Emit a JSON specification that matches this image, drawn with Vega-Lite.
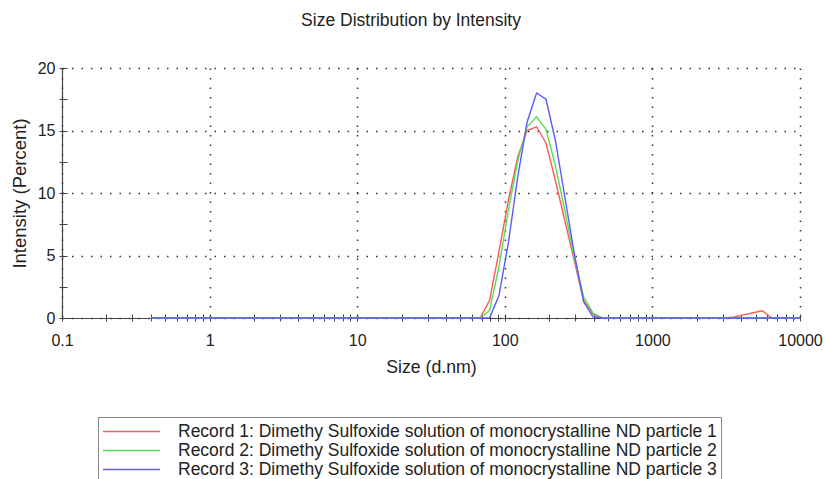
{
  "$schema": "https://vega.github.io/schema/vega-lite/v6.json",
  "autosize": {"type": "none"},
  "width": 738,
  "height": 250,
  "padding": {"left": 62, "top": 68, "right": 26, "bottom": 161},
  "background": "white",
  "title": {"text": "Size Distribution by Intensity", "fontSize": 17.5, "fontWeight": "normal", "color": "#222", "anchor": "middle", "frame": "group", "dx": -20, "offset": 31},
  "config": {"view": {"stroke": null}, "font": "Liberation Sans"},
  "data": {"values": [
    {"size": 0.4, "r1": 0, "r2": 0, "r3": 0},
    {"size": 0.4632, "r1": 0, "r2": 0, "r3": 0},
    {"size": 0.5365, "r1": 0, "r2": 0, "r3": 0},
    {"size": 0.6213, "r1": 0, "r2": 0, "r3": 0},
    {"size": 0.7195, "r1": 0, "r2": 0, "r3": 0},
    {"size": 0.8332, "r1": 0, "r2": 0, "r3": 0},
    {"size": 0.9649, "r1": 0, "r2": 0, "r3": 0},
    {"size": 1.117, "r1": 0, "r2": 0, "r3": 0},
    {"size": 1.294, "r1": 0, "r2": 0, "r3": 0},
    {"size": 1.499, "r1": 0, "r2": 0, "r3": 0},
    {"size": 1.736, "r1": 0, "r2": 0, "r3": 0},
    {"size": 2.01, "r1": 0, "r2": 0, "r3": 0},
    {"size": 2.328, "r1": 0, "r2": 0, "r3": 0},
    {"size": 2.696, "r1": 0, "r2": 0, "r3": 0},
    {"size": 3.122, "r1": 0, "r2": 0, "r3": 0},
    {"size": 3.615, "r1": 0, "r2": 0, "r3": 0},
    {"size": 4.187, "r1": 0, "r2": 0, "r3": 0},
    {"size": 4.849, "r1": 0, "r2": 0, "r3": 0},
    {"size": 5.615, "r1": 0, "r2": 0, "r3": 0},
    {"size": 6.503, "r1": 0, "r2": 0, "r3": 0},
    {"size": 7.531, "r1": 0, "r2": 0, "r3": 0},
    {"size": 8.721, "r1": 0, "r2": 0, "r3": 0},
    {"size": 10.1, "r1": 0, "r2": 0, "r3": 0},
    {"size": 11.7, "r1": 0, "r2": 0, "r3": 0},
    {"size": 13.54, "r1": 0, "r2": 0, "r3": 0},
    {"size": 15.69, "r1": 0, "r2": 0, "r3": 0},
    {"size": 18.17, "r1": 0, "r2": 0, "r3": 0},
    {"size": 21.04, "r1": 0, "r2": 0, "r3": 0},
    {"size": 24.36, "r1": 0, "r2": 0, "r3": 0},
    {"size": 28.21, "r1": 0, "r2": 0, "r3": 0},
    {"size": 32.67, "r1": 0, "r2": 0, "r3": 0},
    {"size": 37.84, "r1": 0, "r2": 0, "r3": 0},
    {"size": 43.82, "r1": 0, "r2": 0, "r3": 0},
    {"size": 50.75, "r1": 0, "r2": 0, "r3": 0},
    {"size": 58.77, "r1": 0, "r2": 0, "r3": 0},
    {"size": 68.06, "r1": 0, "r2": 0, "r3": 0},
    {"size": 78.82, "r1": 1.4, "r2": 0.6, "r3": 0},
    {"size": 91.28, "r1": 5.3, "r2": 4.1, "r3": 1.8},
    {"size": 105.7, "r1": 9.4, "r2": 8.6, "r3": 6.0},
    {"size": 122.4, "r1": 12.9, "r2": 12.6, "r3": 11.3},
    {"size": 141.8, "r1": 15.0, "r2": 15.3, "r3": 15.7},
    {"size": 164.2, "r1": 15.3, "r2": 16.1, "r3": 18.0},
    {"size": 190.1, "r1": 14.0, "r2": 15.1, "r3": 17.5},
    {"size": 220.2, "r1": 11.0, "r2": 12.2, "r3": 14.2},
    {"size": 255.0, "r1": 7.8, "r2": 8.6, "r3": 9.7},
    {"size": 295.3, "r1": 4.6, "r2": 4.9, "r3": 5.2},
    {"size": 342.0, "r1": 1.4, "r2": 1.7, "r3": 1.3},
    {"size": 396.1, "r1": 0.3, "r2": 0.4, "r3": 0.1},
    {"size": 458.7, "r1": 0, "r2": 0, "r3": 0},
    {"size": 531.2, "r1": 0, "r2": 0, "r3": 0},
    {"size": 615.1, "r1": 0, "r2": 0, "r3": 0},
    {"size": 712.4, "r1": 0, "r2": 0, "r3": 0},
    {"size": 825.0, "r1": 0, "r2": 0, "r3": 0},
    {"size": 955.4, "r1": 0, "r2": 0, "r3": 0},
    {"size": 1106, "r1": 0, "r2": 0, "r3": 0},
    {"size": 1281, "r1": 0, "r2": 0, "r3": 0},
    {"size": 1484, "r1": 0, "r2": 0, "r3": 0},
    {"size": 1718, "r1": 0, "r2": 0, "r3": 0},
    {"size": 1990, "r1": 0, "r2": 0, "r3": 0},
    {"size": 2305, "r1": 0, "r2": 0, "r3": 0},
    {"size": 2669, "r1": 0, "r2": 0, "r3": 0},
    {"size": 3091, "r1": 0, "r2": 0, "r3": 0},
    {"size": 3580, "r1": 0.08, "r2": 0, "r3": 0},
    {"size": 4145, "r1": 0.25, "r2": 0, "r3": 0},
    {"size": 4801, "r1": 0.42, "r2": 0, "r3": 0},
    {"size": 5560, "r1": 0.58, "r2": 0, "r3": 0},
    {"size": 6439, "r1": 0, "r2": 0, "r3": 0},
    {"size": 7456, "r1": 0, "r2": 0, "r3": 0},
    {"size": 8635, "r1": 0, "r2": 0, "r3": 0},
    {"size": 10000, "r1": 0, "r2": 0, "r3": 0}
  ]},
  "transform": [{"fold": ["r1", "r2", "r3"], "as": ["record", "intensity"]}],
  "resolve": {"axis": {"x": "independent", "y": "independent"}},
  "layer": [
    {
      "mark": {"type": "line", "strokeWidth": 1.4, "interpolate": "linear"},
      "encoding": {
        "x": {"field": "size", "type": "quantitative",
          "scale": {"type": "log", "domain": [0.1, 10000], "nice": false},
          "axis": {"orient": "bottom", "title": "Size (d.nm)", "values": [0.1, 1, 10, 100, 1000, 10000],
            "labelExpr": "'' + datum.value", "ticks": false, "grid": true, "gridColor": "#333", "gridDash": [1.5, 8], "gridWidth": 1.5,
            "domainColor": "#444", "domainWidth": 1.2, "labelFontSize": 16, "labelColor": "#222", "labelPadding": 14, "labelFlush": false,
            "titleFontSize": 17.7, "titleFontWeight": "normal", "titleColor": "#222", "titlePadding": 10}},
        "y": {"field": "intensity", "type": "quantitative",
          "scale": {"domain": [0, 20], "nice": false},
          "axis": {"orient": "left", "title": "Intensity (Percent)", "values": [0, 5, 10, 15, 20],
            "ticks": false, "grid": true, "gridColor": "#333", "gridDash": [1.5, 8], "gridWidth": 1.5,
            "domainColor": "#444", "domainWidth": 1.2, "labelFontSize": 16, "labelColor": "#222", "labelPadding": 7, "labelFlush": false,
            "titleFontSize": 18.5, "titleFontWeight": "normal", "titleColor": "#222", "titlePadding": 8}},
        "color": {"field": "record", "type": "nominal",
          "scale": {"domain": ["r1", "r2", "r3"], "range": ["#ff5a5a", "#55e055", "#5a5aff"]},
          "legend": {"orient": "none", "legendX": 36, "legendY": 349, "title": null, "direction": "vertical",
            "strokeColor": "#888", "padding": 4, "symbolType": "M-3,0H3", "symbolSize": 361, "symbolStrokeWidth": 1.5,
            "symbolOffset": 19, "labelOffset": 36, "labelFontSize": 17.5, "labelColor": "#222", "labelLimit": 0, "rowPadding": 0,
            "labelExpr": "'Record ' + substring(datum.label, 1) + ': Dimethy Sulfoxide solution of monocrystalline ND particle ' + substring(datum.label, 1)"}}
      }
    },
    {
      "mark": {"type": "line", "opacity": 0},
      "encoding": {
        "x": {"field": "size", "type": "quantitative",
          "axis": {"orient": "bottom", "title": null, "labels": false, "grid": false, "domain": false, "offset": -4, "tickSize": 7, "tickColor": "#444", "tickWidth": 1,
            "values": [0.1, 0.2, 0.3, 0.4, 0.5, 0.6, 0.7, 0.8, 0.9, 1, 2, 3, 4, 5, 6, 7, 8, 9, 10, 20, 30, 40, 50, 60, 70, 80, 90, 100, 200, 300, 400, 500, 600, 700, 800, 900, 1000, 2000, 3000, 4000, 5000, 6000, 7000, 8000, 9000, 10000]}},
        "y": {"field": "intensity", "type": "quantitative",
          "axis": {"orient": "left", "title": null, "labels": false, "grid": false, "domain": false, "offset": -5, "tickSize": 8, "tickColor": "#444", "tickWidth": 1,
            "values": [0, 2.5, 5, 7.5, 10, 12.5, 15, 17.5, 20]}},
        "detail": {"field": "record", "type": "nominal"}
      }
    }
  ]
}
